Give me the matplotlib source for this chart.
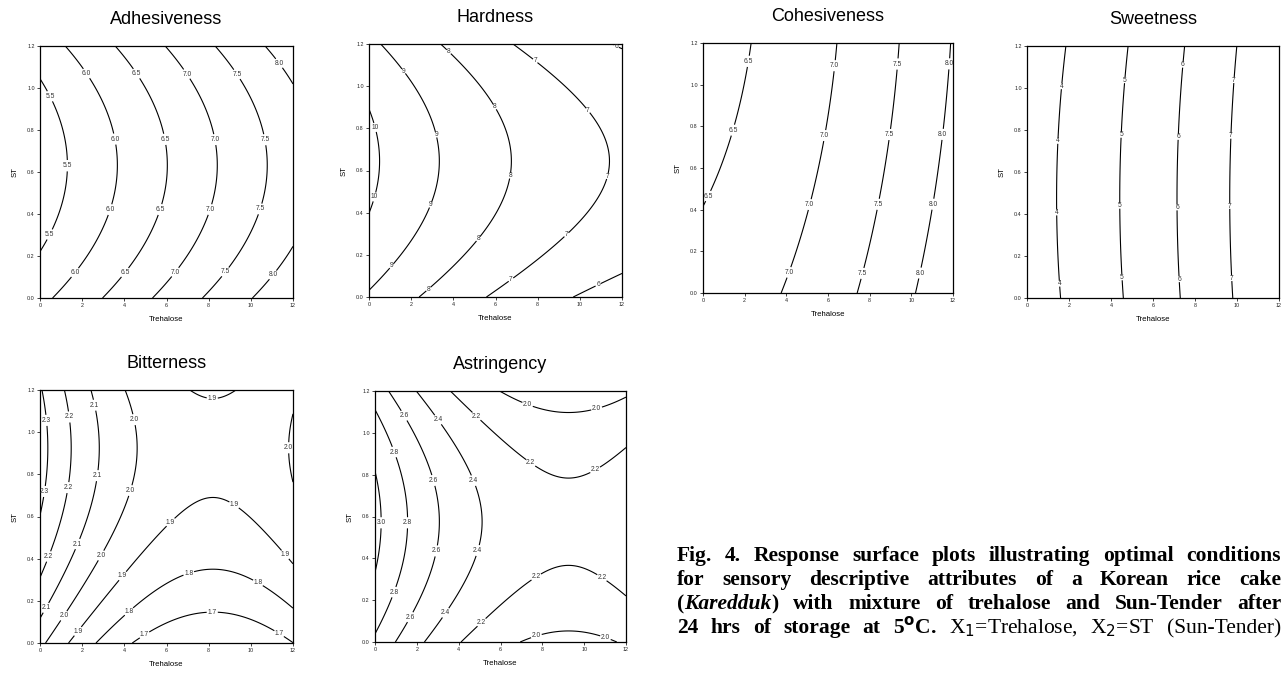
import numpy as np
import matplotlib
matplotlib.use("Agg")
import matplotlib.pyplot as plt

plt.rcParams['font.family'] = ['Liberation Sans', 'DejaVu Sans']

# second-order response surface:
# f = s + a1*dx + a2*dx^2 + b1*dy + b2*dy^2, dx = x - xc, dy = y - yc
titles = ['Adhesiveness', 'Hardness', 'Cohesiveness', 'Sweetness', 'Bitterness', 'Astringency']
centers = [(0, 0.62), (0, 0.63), (0, 0.0), (0, 0.0), (8.2, 0.925), (9.25, 0.575)]
s_coef = [5.226, 10.1925, 6.6652, 3.5086, 1.92, 2.238]
a1_coef = [0.211, -0.3898, 0.0651, 0.2976, 0.0, 0.0]
a2_coef = [0.0, 0.00963, 0.006447, 0.00599, 0.0062, 0.0095]
b1_coef = [-0.041, 0.093, -0.4532, 0.2533, 0.0, 0.0]
b2_coef = [1.62, -3.178, 0.1346, -0.2667, -0.363, -0.873]

levels = [
    [5.5, 6.0, 6.5, 7.0, 7.5, 8.0],
    [6, 7, 8, 9, 10],
    [6.5, 7.0, 7.5, 8.0],
    [4, 5, 6, 7],
    [1.7, 1.8, 1.9, 2.0, 2.1, 2.2, 2.3],
    [2.0, 2.2, 2.4, 2.6, 2.8, 3.0],
]
fmts = ['%.1f', '%d', '%.1f', '%d', '%.1f', '%.1f']

x_ticks = [0, 2, 4, 6, 8, 10, 12]
y_ticks = [0.0, 0.2, 0.4, 0.6, 0.8, 1.0, 1.2]

# where the contour labels sit
label_pos = [
    [(2.18, 1.067), (3.45, 0.755), (3.32, 0.421), (1.66, 0.121),
     (4.56, 1.067), (5.89, 0.755), (5.70, 0.421), (4.04, 0.121),
     (6.97, 1.067), (8.33, 0.755), (8.07, 0.421), (6.44, 0.121),
     (9.37, 1.067), (10.73, 0.755), (10.53, 0.421), (8.83, 0.121),
     (11.40, 1.122), (11.11, 0.105),
     (0.44, 0.959), (1.27, 0.63), (0.47, 0.302)],
    [(1.63, 1.07), (3.15, 0.769), (2.94, 0.436), (1.12, 0.143),
     (3.77, 1.162), (5.94, 0.90), (6.70, 0.575), (5.22, 0.273), (2.87, 0.032),
     (7.87, 1.118), (10.34, 0.881), (11.26, 0.574), (9.39, 0.293), (6.78, 0.076),
     (0.28, 0.804), (0.28, 0.474),
     (11.71, 1.186), (10.89, 0.054)],
    [(2.18, 1.112), (1.46, 0.781), (0.34, 0.461),
     (6.14, 1.093), (5.77, 0.757), (5.03, 0.427), (4.07, 0.101),
     (9.24, 1.10), (8.88, 0.762), (8.35, 0.427), (7.58, 0.096),
     (11.81, 1.10), (11.44, 0.762), (10.99, 0.427), (10.40, 0.096)],
    [(1.65, 1.008), (1.46, 0.748), (1.41, 0.407), (1.54, 0.068),
     (4.62, 1.037), (4.45, 0.777), (4.38, 0.439), (4.51, 0.098),
     (7.38, 1.111), (7.16, 0.767), (7.12, 0.431), (7.20, 0.089),
     (9.85, 1.037), (9.69, 0.772), (9.66, 0.438), (9.75, 0.094)],
    [(0.41, 1.057), (0.32, 0.717),
     (1.46, 1.073), (1.39, 0.736), (0.47, 0.408),
     (2.64, 1.129), (2.77, 0.793), (1.84, 0.467), (0.35, 0.163),
     (4.54, 1.061), (4.32, 0.722), (2.93, 0.413), (1.16, 0.127),
     (11.75, 0.926),
     (8.17, 1.163), (9.18, 0.651), (6.22, 0.570), (11.56, 0.413), (3.93, 0.317), (1.84, 0.052),
     (7.06, 0.329), (10.32, 0.282), (4.24, 0.147),
     (8.17, 0.142), (11.32, 0.041), (4.94, 0.041)],
    [(7.29, 1.135), (10.60, 1.114),
     (4.85, 1.079), (7.45, 0.858), (10.56, 0.817),
     (1.34, 1.079), (2.78, 0.772), (2.90, 0.436), (1.66, 0.12),
     (2.98, 1.06), (4.72, 0.772), (4.96, 0.436), (3.38, 0.139),
     (0.86, 0.906), (1.50, 0.570), (0.86, 0.24),
     (0.22, 0.570),
     (7.75, 0.304), (10.88, 0.312), (5.12, 0.091),
     (7.72, 0.027), (11.04, 0.027)],
]

W, H = 1287, 673
boxes = [(40, 46, 293, 298), (369, 44, 622, 297), (703, 43, 953, 293),
         (1027, 46, 1279, 298), (40, 390, 293, 643), (375, 391, 626, 642)]

fig = plt.figure(figsize=(W / 100, H / 100), dpi=100)

xg = np.linspace(0, 12, 241)
yg = np.linspace(0, 1.2, 241)
X, Y = np.meshgrid(xg, yg)

for i, t in enumerate(titles):
    l, tp, r, b = boxes[i]
    ax = fig.add_axes([l / W, 1 - b / H, (r - l) / W, (b - tp) / H])
    xc, yc = centers[i]
    dx = X - xc
    dy = Y - yc
    Z = (s_coef[i] + a1_coef[i] * dx + a2_coef[i] * dx**2
         + b1_coef[i] * dy + b2_coef[i] * dy**2)
    cs = ax.contour(X, Y, Z, levels=levels[i], colors='black', linewidths=0.8)
    labs = ax.clabel(cs, fmt=fmts[i], fontsize=4.8, colors='#333333', inline=True,
                     inline_spacing=1, manual=label_pos[i])
    for lb in labs:
        lb.set_rotation(0)
    ax.set_xlim(0, 12)
    ax.set_ylim(0, 1.2)
    ax.set_xticks(x_ticks)
    ax.set_xticklabels([str(v) for v in x_ticks])
    ax.set_yticks(y_ticks)
    ax.set_yticklabels(['%.1f' % v for v in y_ticks])
    ax.tick_params(direction='out', length=2.2, width=0.6, labelsize=3.9,
                   pad=1.5, colors='#222222')
    for sp in ax.spines.values():
        sp.set_linewidth(0.9)
    ax.set_xlabel('Trehalose', fontsize=5.6, labelpad=6)
    ax.set_ylabel('ST', fontsize=5.6, labelpad=6)
    ax.set_title(t, fontsize=13, pad=16)

# caption, placed word by word so that mixed weights fit on one line
# and the lines are justified like the printed page
rend = fig.canvas.get_renderer()
cap_size = 15.5
cap_font = 'Liberation Serif'
cap_lines = [
    [('Fig. 4. Response surface plots illustrating optimal conditions', 'bold', 'normal')],
    [('for sensory descriptive attributes of a Korean rice cake', 'bold', 'normal')],
    [('(', 'bold', 'normal'), ('Karedduk', 'bold', 'italic'),
     (') with mixture of trehalose and Sun-Tender after', 'bold', 'normal')],
    [('24 hrs of storage at 5$^{\\mathbf{o}}$C.', 'bold', 'normal'),
     (' X$_1$=Trehalose, X$_2$=ST (Sun-Tender)', 'normal', 'normal')],
]
base_y = [561, 585, 609, 633]
x0, full_w = 677, 604


def measure(txt, wt, st):
    tmp = fig.text(0, 0, txt, fontsize=cap_size, family=cap_font,
                   fontweight=wt, fontstyle=st)
    w = tmp.get_window_extent(renderer=rend).width
    tmp.remove()
    return w


for line, py in zip(cap_lines, base_y):
    words = []
    for txt, wt, st in line:
        parts = txt.split(' ')
        for k, p in enumerate(parts):
            if not p:
                continue
            if k == 0 and words and not txt.startswith(' '):
                words[-1].append((p, wt, st))
            else:
                words.append([(p, wt, st)])
    widths = [[measure(p, wt, st) for p, wt, st in wd] for wd in words]
    total = sum(sum(w) for w in widths)
    gap = (full_w - total) / (len(words) - 1)
    x = x0
    for wd, ws in zip(words, widths):
        for (p, wt, st), w in zip(wd, ws):
            fig.text(x / W, 1 - py / H, p, fontsize=cap_size, family=cap_font,
                     fontweight=wt, fontstyle=st, va='baseline', ha='left')
            x += w
        x += gap

fig.savefig('out.png', dpi=100)
